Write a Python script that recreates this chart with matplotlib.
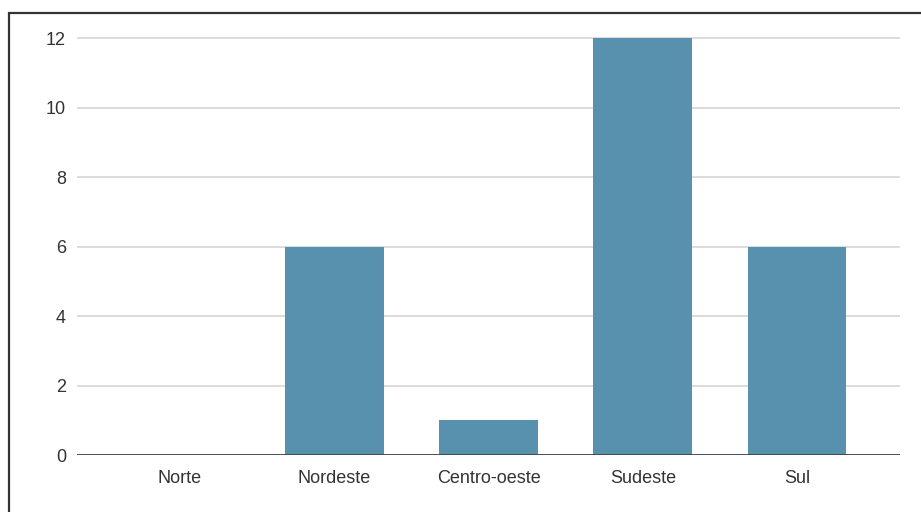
import matplotlib.pyplot as plt
from matplotlib.patches import Rectangle

# Regions and counts
regioes = ['Norte', 'Nordeste', 'Centro-oeste', 'Sudeste', 'Sul']
contagem = [0, 6, 1, 12, 6]
marcas_y = [0, 2, 4, 6, 8, 10, 12]

plt.rcParams['font.family'] = ['Liberation Sans', 'DejaVu Sans']

fig = plt.figure(figsize=(9.21, 5.12), dpi=100)
ax = fig.add_axes([77 / 921, 1 - 455 / 512, 823 / 921, 427.4 / 512])

ax.bar(range(len(regioes)), contagem, width=0.64, color='#5891ae', zorder=3)

ax.set_xlim(-0.667, len(regioes) - 0.333)
ax.set_ylim(0, 12.3)
ax.set_yticks(marcas_y)
ax.set_xticks(range(len(regioes)))
ax.set_xticklabels(regioes)

ax.grid(axis='y', color='#d9d9d9', linewidth=1.3, zorder=0)
ax.axhline(0, color='#444444', linewidth=1.3, zorder=4)

for s in ax.spines.values():
    s.set_visible(False)
ax.tick_params(axis='both', length=0, labelsize=13, labelcolor='#333333')
ax.tick_params(axis='y', pad=8)
ax.tick_params(axis='x', pad=11)

# outer frame around the chart
fig.patches.append(Rectangle((8.5 / 921, -0.1), 1.2, 1 - 12.5 / 512 + 0.1,
                             transform=fig.transFigure, fill=False,
                             edgecolor='#333333', linewidth=1.6))

fig.savefig('out.png', dpi=100)
